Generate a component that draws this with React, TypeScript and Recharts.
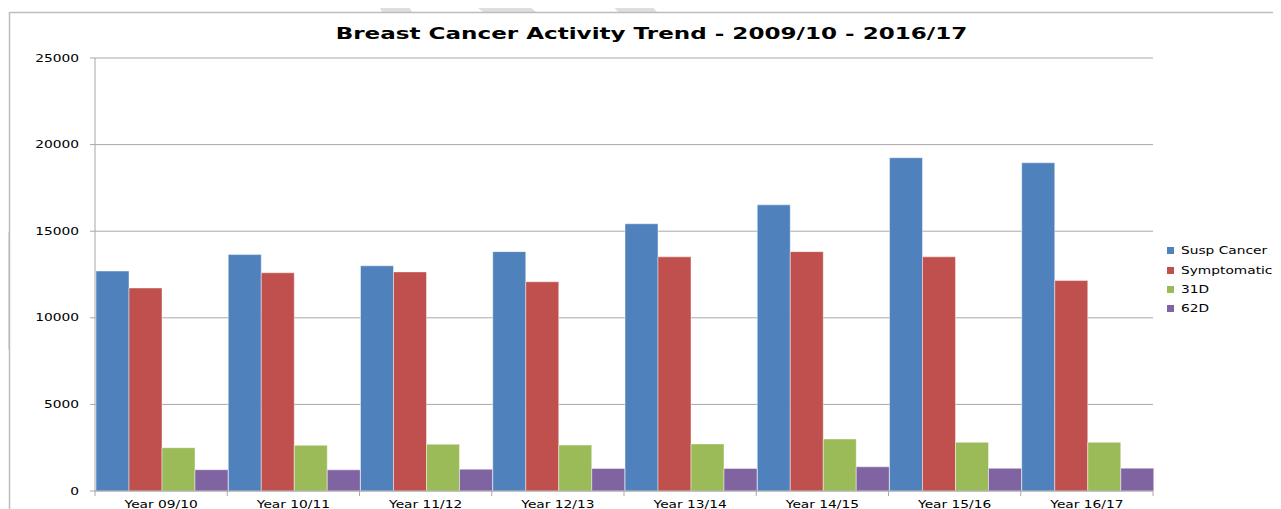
import React from "react";
import { BarChart, Bar, XAxis, YAxis, CartesianGrid } from "recharts";

const categories = ["Year 09/10", "Year 10/11", "Year 11/12", "Year 12/13", "Year 13/14", "Year 14/15", "Year 15/16", "Year 16/17"];
const suspCancer = [12700, 13650, 13000, 13820, 15430, 16520, 19240, 18950];
const symptomatic = [11720, 12600, 12650, 12080, 13520, 13820, 13520, 12150];
const d31 = [2500, 2640, 2700, 2650, 2720, 3000, 2810, 2810];
const d62 = [1230, 1220, 1260, 1300, 1300, 1400, 1310, 1320];
const yTicks = [0, 5000, 10000, 15000, 20000, 25000];
const seriesNames = ["Susp Cancer", "Symptomatic", "31D", "62D"];
const colors = ["#4F81BD", "#C0504D", "#9BBB59", "#8064A2"];

const data = categories.map((c, i) => ({
  name: c,
  s0: suspCancer[i],
  s1: symptomatic[i],
  s2: d31[i],
  s3: d62[i],
}));

const W = 1273;
const H = 501;
const M = { top: 50, right: 128, left: 0, bottom: 0 };
const Y_W = 87;
const PLOT_W = W - M.right - Y_W;
const HALF = PLOT_W / categories.length / 2;
const FONT = "'DejaVu Sans', Verdana, sans-serif";
const SX = 1.35;
const GRID = "#A8A8A8";

const YTick = (props: any) => {
  const { x, y, payload } = props;
  return (
    <text
      transform={`translate(${x},${y + 3.5}) scale(${SX},1)`}
      textAnchor="end"
      fontFamily={FONT}
      fontSize={10.2}
      fill="#000"
    >
      {payload.value}
    </text>
  );
};

const XTick = (props: any) => {
  const { x, y, payload, index } = props;
  const axisY = y - 8;
  return (
    <g>
      <line x1={x - HALF} x2={x - HALF} y1={axisY} y2={axisY + 5} stroke={GRID} />
      {index === categories.length - 1 && (
        <line x1={x + HALF} x2={x + HALF} y1={axisY} y2={axisY + 5} stroke={GRID} />
      )}
      <text
        transform={`translate(${x},${axisY + 17.2}) scale(${SX},1)`}
        textAnchor="middle"
        fontFamily={FONT}
        fontSize={10.2}
        fill="#000"
      >
        {payload.value}
      </text>
    </g>
  );
};

export default function App() {
  return (
    <div style={{ position: "relative", width: W, height: H, background: "#fff" }}>
      <svg
        style={{ position: "absolute", left: -8, top: -8 }}
        width={1281}
        height={509}
      >
        <polygon points="376,0 405,0 412,12 382,12" fill="#DEDEDE" />
        <polygon points="468,0 522,0 536,12 483,12" fill="#DEDEDE" />
        <polygon points="608,0 647,0 657,12 618,12" fill="#DEDEDE" />
        <polygon points="0,240 9,232 9,350 0,340" fill="#DEDEDE" />
        <line x1={10} x2={1281} y1={12.5} y2={12.5} stroke="#BDBDBD" strokeWidth={1.5} />
        <line x1={9.5} x2={9.5} y1={12} y2={509} stroke="#BDBDBD" strokeWidth={1.5} />
        <text
          transform="translate(651.5,38.5) scale(1.47,1)"
          textAnchor="middle"
          fontFamily={FONT}
          fontWeight="bold"
          fontSize={15.7}
          fill="#000"
        >
          Breast Cancer Activity Trend - 2009/10 - 2016/17
        </text>
      </svg>
      <div style={{ position: "absolute", left: 0, top: 0 }}>
        <BarChart
          width={W}
          height={H}
          data={data}
          margin={M}
          barCategoryGap={1}
          barGap={0}
        >
          <CartesianGrid vertical={false} stroke={GRID} strokeWidth={1} />
          <XAxis
            dataKey="name"
            height={18}
            tickLine={false}
            axisLine={{ stroke: GRID }}
            tick={<XTick />}
            interval={0}
            tickSize={5}
            tickMargin={3}
          />
          <YAxis
            width={Y_W}
            domain={[0, 25000]}
            ticks={yTicks}
            interval={0}
            tickLine={{ stroke: GRID }}
            axisLine={{ stroke: GRID }}
            tickSize={5}
            tickMargin={11}
            tick={<YTick />}
          />
          {seriesNames.map((n, i) => (
            <Bar
              key={n}
              dataKey={`s${i}`}
              name={n}
              fill={colors[i]}
              stroke="#ffffff"
              strokeOpacity={0.55}
              strokeWidth={0.8}
              isAnimationActive={false}
            />
          ))}
        </BarChart>
      </div>
      <div style={{ position: "absolute", left: 1167 - 8, top: 241 - 8 }}>
        {seriesNames.map((n, i) => (
          <div key={n} style={{ height: 19.4, display: "flex", alignItems: "center", position: "relative" }}>
            <div style={{ width: 7, height: 7, background: colors[i] }} />
            <span
              style={{
                position: "absolute",
                left: 14,
                fontFamily: FONT,
                fontSize: 10.2,
                color: "#000",
                whiteSpace: "nowrap",
                transform: `scaleX(${SX})`,
                transformOrigin: "left center",
              }}
            >
              {n}
            </span>
          </div>
        ))}
      </div>
    </div>
  );
}
